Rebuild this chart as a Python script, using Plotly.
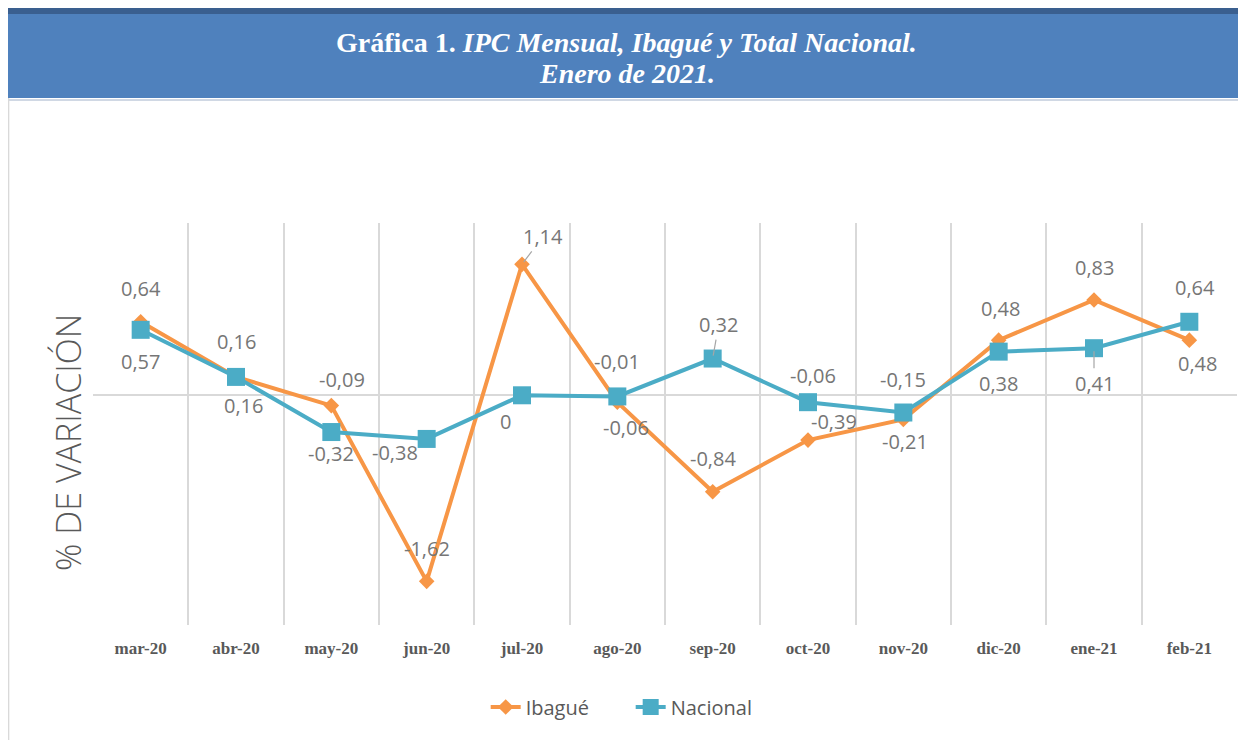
import plotly.graph_objects as go

months = ["mar-20", "abr-20", "may-20", "jun-20", "jul-20", "ago-20",
          "sep-20", "oct-20", "nov-20", "dic-20", "ene-21", "feb-21"]
ibague = [0.64, 0.16, -0.09, -1.62, 1.14, -0.06, -0.84, -0.39, -0.21, 0.48, 0.83, 0.48]
nacional = [0.57, 0.16, -0.32, -0.38, 0.00, -0.01, 0.32, -0.06, -0.15, 0.38, 0.41, 0.64]

# label placement (pixel offsets from each point), style only
ib_off = [(0, -33), (0, -35), (11, -26), (0, -33), (21, -28), (9, 25),
          (0, -33), (26, -19), (2, 22), (2, -32), (0, -32), (8, 23)]
na_off = [(0, 32), (7, 29), (0, 21), (-32, 14), (-17, 26), (0, -35),
          (6, -34), (5, -27), (0, -33), (0, 32), (0, 35), (6, -34)]
ib_arrow = [False, False, False, False, True, False, False, False, False, False, False, False]
na_arrow = [False, False, False, False, False, False, True, False, False, False, True, False]

ORANGE = "#f79646"
TEAL = "#4bacc6"
LABEL = "#767676"

fig = go.Figure()
fig.add_trace(go.Scatter(
    x=months, y=ibague, name="Ibagué", mode="lines+markers",
    line=dict(color=ORANGE, width=4),
    marker=dict(symbol="diamond", size=12, color=ORANGE),
))
fig.add_trace(go.Scatter(
    x=months, y=nacional, name="Nacional", mode="lines+markers",
    line=dict(color=TEAL, width=4),
    marker=dict(symbol="square", size=18, color=TEAL),
))

def fmt(v):
    s = ("%.2f" % v).replace(".", ",")
    if v == 0:
        s = "0"
    return s

annotations = []
for vals, offs, arrows in ((ibague, ib_off, ib_arrow), (nacional, na_off, na_arrow)):
    for m, v, (dx, dy), arr in zip(months, vals, offs, arrows):
        if arr:
            annotations.append(dict(
                x=m, y=v, xref="x", yref="y", text=fmt(v), showarrow=True,
                ax=dx, ay=dy, arrowhead=0, arrowwidth=1.2, arrowcolor="#a6a6a6",
                standoff=3, startstandoff=0,
                font=dict(family="Open Sans", size=20, color=LABEL)))
        else:
            annotations.append(dict(
                x=m, y=v, xref="x", yref="y", text=fmt(v), showarrow=False,
                xshift=dx, yshift=-dy,
                font=dict(family="Open Sans", size=20, color=LABEL)))

# y-axis title
annotations.append(dict(
    x=-0.022, y=0.455, xref="paper", yref="paper", text="% DE VARIACIÓN",
    textangle=-90, showarrow=False, xanchor="center", yanchor="middle",
    font=dict(family="Open Sans", size=34, color="#595959", weight=300)))

# header title (two lines)
annotations.append(dict(
    x=0.4664, y=1.4502, xref="paper", yref="paper",
    text="<b>Gráfica 1. <i>IPC Mensual, Ibagué y Total Nacional.</i></b>",
    showarrow=False, xanchor="center", yanchor="middle",
    font=dict(family="Liberation Serif", size=28, color="white")))
annotations.append(dict(
    x=0.4664, y=1.3731, xref="paper", yref="paper",
    text="<b><i>Enero de 2021.</i></b>",
    showarrow=False, xanchor="center", yanchor="middle",
    font=dict(family="Liberation Serif", size=28, color="white")))

shapes = [
    # header band
    dict(type="rect", xref="paper", yref="paper", x0=-0.0795, x1=1.01, y0=1.311, y1=1.5348,
         fillcolor="#4f81bd", line=dict(width=0), layer="below"),
    dict(type="rect", xref="paper", yref="paper", x0=-0.0795, x1=1.01, y0=1.5199, y1=1.5348,
         fillcolor="#3a5f8f", line=dict(width=0), layer="below"),
    dict(type="line", xref="paper", yref="paper", x0=-0.0795, x1=1.01, y0=1.306, y1=1.306,
         line=dict(color="#d0d8e4", width=2), layer="below"),
    # left border of the chart box
    dict(type="line", xref="paper", yref="paper", x0=-0.0738, x1=-0.0738, y0=-0.3, y1=1.311,
         line=dict(color="#d9d9d9", width=1.5), layer="below"),
]

fig.update_layout(
    width=1238, height=732,
    margin=dict(l=85, r=9, t=215, b=115),
    paper_bgcolor="white", plot_bgcolor="white",
    showlegend=True,
    legend=dict(orientation="h", x=0.47, y=-0.204, xanchor="center", yanchor="middle",
                font=dict(family="Open Sans", size=20, color="#595959"),
                entrywidth=100, bgcolor="rgba(0,0,0,0)"),
    annotations=annotations,
    shapes=shapes,
    xaxis=dict(type="category", range=[-0.5, 11.5], tickson="boundaries",
               showgrid=True, gridcolor="#d9d9d9", gridwidth=1.5,
               showline=False, zeroline=False, ticks="",
               ticklabelstandoff=11,
               tickfont=dict(family="Liberation Serif", size=17, color="#595959", weight="bold")),
    yaxis=dict(range=[-2, 1.5], showgrid=False, showticklabels=False, ticks="",
               zeroline=True, zerolinecolor="#d9d9d9", zerolinewidth=1.5, showline=False),
)

fig.write_html("out.html")
